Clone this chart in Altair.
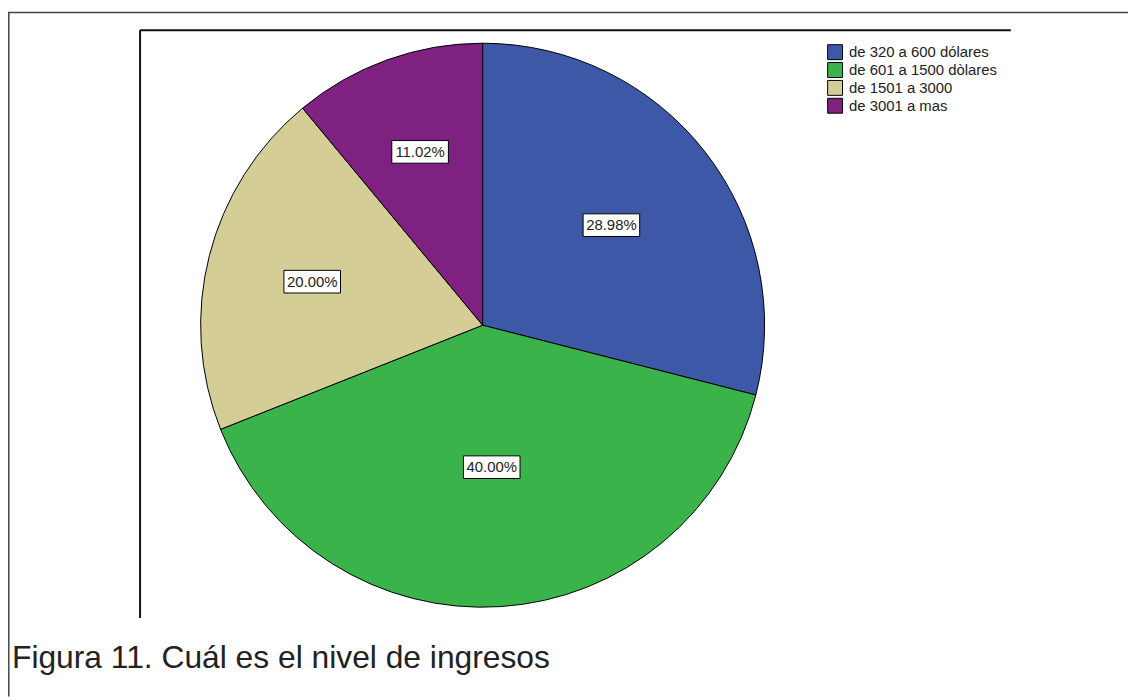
import altair as alt
import pandas as pd

categories = ["de 320 a 600 dólares", "de 601 a 1500 dòlares", "de 1501 a 3000", "de 3001 a mas"]
values = [28.98, 40.00, 20.00, 11.02]
colors = ["#3E58A8", "#3AB44A", "#D4CD96", "#7E2180"]
caption = "Figura 11. Cuál es el nivel de ingresos"

df = pd.DataFrame({"cat": categories, "value": values, "ord": list(range(len(categories)))})

CX, CY, R = 478, 317, 284
W, H = 1128, 691
FONT = "Liberation Sans"

base = alt.Chart(df)

pie = base.mark_arc(radius=R, stroke="black", strokeWidth=1).encode(
    theta=alt.Theta("value:Q", stack=True),
    order=alt.Order("ord:Q"),
    color=alt.Color(
        "cat:N",
        scale=alt.Scale(domain=categories, range=colors),
        sort=categories,
        legend=alt.Legend(
            title=None, orient="none", legendX=825, legendY=34, padding=0,
            symbolType="square", symbolSize=225, symbolStrokeColor="black",
            symbolStrokeWidth=1, symbolOpacity=1, labelFontSize=15,
            labelFont=FONT, labelColor="#222222", rowPadding=-3, labelOffset=6,
        ),
    ),
    x=alt.value(CX),
    y=alt.value(CY),
)

lab = base.transform_joinaggregate(total="sum(value)").transform_window(
    cum="sum(value)", sort=[alt.SortField("ord")]
).transform_calculate(
    a0="2*PI*(datum.cum - datum.value)/datum.total",
    a1="2*PI*datum.cum/datum.total",
).transform_calculate(
    mid="(datum.a0 + datum.a1)/2",
    alpha="datum.a1 - datum.a0",
).transform_calculate(
    rr=f"4*{R}*sin(datum.alpha/2)/(3*datum.alpha)",
).transform_calculate(
    lx=f"{CX} + datum.rr*sin(datum.mid)",
    ly=f"{CY} - datum.rr*cos(datum.mid)",
    txt="format(datum.value, '.2f') + '%'",
)

boxes = lab.mark_point(
    shape="M-1,-0.4L1,-0.4L1,0.4L-1,0.4Z", size=3249, filled=True,
    fill="white", stroke="black", strokeWidth=1, opacity=1,
).encode(
    x=alt.X("lx:Q", scale=None, axis=None),
    y=alt.Y("ly:Q", scale=None, axis=None),
)

texts = lab.mark_text(fontSize=15, font=FONT, color="#222222").encode(
    x=alt.X("lx:Q", scale=None, axis=None),
    y=alt.Y("ly:Q", scale=None, axis=None),
    text="txt:N",
)

outer_top = alt.Chart(pd.DataFrame({"a": [0]})).mark_rule(color="#444444", strokeWidth=1.5).encode(
    x=alt.value(0), x2=alt.value(W), y=alt.value(2))
outer_left = alt.Chart(pd.DataFrame({"a": [0]})).mark_rule(color="#444444", strokeWidth=1.5).encode(
    x=alt.value(0.8), y=alt.value(2), y2=alt.value(H))
inner_top = alt.Chart(pd.DataFrame({"a": [0]})).mark_rule(color="#111111", strokeWidth=2).encode(
    x=alt.value(133), x2=alt.value(1010), y=alt.value(20))
inner_left = alt.Chart(pd.DataFrame({"a": [0]})).mark_rule(color="#111111", strokeWidth=2).encode(
    x=alt.value(133), y=alt.value(20), y2=alt.value(612))

cap = alt.Chart(pd.DataFrame({"t": [caption]})).mark_text(
    fontSize=32, font=FONT, color="#222222", align="left", baseline="alphabetic"
).encode(x=alt.value(4), y=alt.value(662), text="t:N")

chart = alt.layer(outer_top, outer_left, inner_top, inner_left, pie, boxes, texts, cap).properties(
    width=W, height=H, autosize=alt.AutoSizeParams(type="none"), padding=0,
).configure_view(stroke=None)

chart.save("out.html", embed_options={"renderer": "svg", "actions": False})
